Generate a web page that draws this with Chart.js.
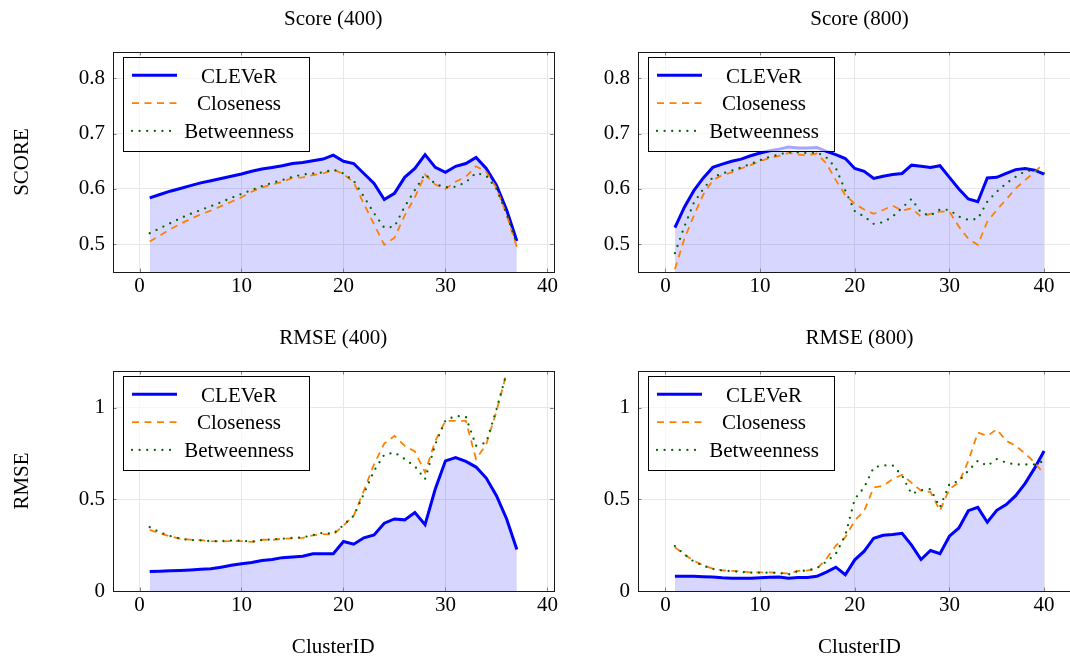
<!DOCTYPE html>
<html>
<head>
<meta charset="utf-8">
<script src="https://cdn.jsdelivr.net/npm/chart.js@4.4.0/dist/chart.umd.min.js"></script>
<style>
  html, body { margin:0; padding:0; background:#fff; overflow:hidden; width:1070px; height:659px; }
  canvas { position:absolute; }
</style>
</head>
<body>
<canvas id="c1" width="560" height="320" style="left:0;top:0"></canvas>
<canvas id="c2" width="530" height="320" style="left:560px;top:0"></canvas>
<canvas id="c3" width="560" height="339" style="left:0;top:320px"></canvas>
<canvas id="c4" width="530" height="339" style="left:560px;top:320px"></canvas>
<script>
// ---------------- data ----------------
const seriesNames = ['CLEVeR', 'Closeness', 'Betweenness'];

const clusters400 = [1,2,3,4,5,6,7,8,9,10,11,12,13,14,15,16,17,18,19,20,21,22,23,24,25,26,27,28,29,30,31,32,33,34,35,36,37];
const clusters800 = [1,2,3,4,5,6,7,8,9,10,11,12,13,14,15,16,17,18,19,20,21,22,23,24,25,26,27,28,29,30,31,32,33,34,35,36,37,38,39,40];

const score400Clever = [0.584,0.590,0.596,0.601,0.606,0.611,0.615,0.619,0.623,0.627,0.632,0.636,0.639,0.642,0.646,0.648,0.651,0.654,0.661,0.650,0.646,0.628,0.610,0.581,0.592,0.621,0.637,0.662,0.639,0.630,0.641,0.646,0.657,0.637,0.607,0.562,0.506];
const score400Close  = [0.505,0.516,0.527,0.537,0.546,0.554,0.561,0.569,0.577,0.585,0.595,0.603,0.608,0.613,0.620,0.621,0.625,0.628,0.635,0.627,0.612,0.573,0.536,0.499,0.512,0.552,0.585,0.626,0.608,0.600,0.613,0.622,0.641,0.631,0.602,0.553,0.495];
const score400Betw   = [0.520,0.529,0.538,0.547,0.555,0.562,0.569,0.576,0.584,0.591,0.598,0.605,0.611,0.616,0.622,0.626,0.628,0.630,0.635,0.628,0.615,0.586,0.556,0.530,0.532,0.568,0.598,0.627,0.609,0.603,0.604,0.612,0.629,0.624,0.600,0.555,0.500];

const score800Clever = [0.530,0.567,0.597,0.620,0.639,0.645,0.650,0.654,0.660,0.665,0.669,0.672,0.676,0.674,0.674,0.675,0.668,0.662,0.655,0.637,0.632,0.619,0.623,0.626,0.628,0.643,0.641,0.639,0.642,0.621,0.600,0.582,0.577,0.620,0.621,0.628,0.635,0.637,0.634,0.627];
const score800Close  = [0.455,0.510,0.552,0.590,0.616,0.625,0.630,0.637,0.643,0.650,0.656,0.660,0.665,0.662,0.661,0.664,0.646,0.616,0.589,0.573,0.563,0.555,0.562,0.570,0.561,0.565,0.550,0.555,0.559,0.559,0.532,0.510,0.499,0.541,0.562,0.581,0.601,0.616,0.631,0.646];
const score800Betw   = [0.484,0.532,0.575,0.600,0.621,0.628,0.633,0.639,0.645,0.652,0.658,0.662,0.667,0.666,0.665,0.666,0.657,0.638,0.597,0.560,0.550,0.537,0.540,0.550,0.566,0.582,0.557,0.552,0.563,0.562,0.550,0.544,0.546,0.577,0.595,0.610,0.622,0.632,0.634,0.628];

const rmse400Clever = [0.107,0.108,0.110,0.112,0.115,0.118,0.121,0.130,0.140,0.149,0.155,0.166,0.172,0.182,0.186,0.190,0.203,0.203,0.203,0.270,0.255,0.290,0.306,0.370,0.393,0.388,0.428,0.362,0.556,0.710,0.728,0.707,0.676,0.616,0.520,0.393,0.226];
const rmse400Close  = [0.333,0.315,0.298,0.285,0.280,0.277,0.272,0.270,0.272,0.272,0.268,0.280,0.279,0.285,0.287,0.290,0.304,0.310,0.308,0.357,0.411,0.547,0.692,0.804,0.846,0.792,0.761,0.647,0.819,0.928,0.928,0.928,0.719,0.800,0.980,1.190];
const rmse400Betw   = [0.348,0.320,0.300,0.285,0.278,0.276,0.272,0.272,0.275,0.275,0.268,0.278,0.282,0.285,0.290,0.292,0.305,0.318,0.312,0.360,0.410,0.530,0.656,0.743,0.755,0.720,0.680,0.610,0.800,0.930,0.955,0.950,0.792,0.810,0.990,1.190];

const rmse800Clever = [0.080,0.080,0.080,0.078,0.077,0.072,0.070,0.070,0.070,0.072,0.075,0.076,0.070,0.073,0.074,0.080,0.103,0.130,0.089,0.170,0.217,0.288,0.304,0.308,0.315,0.250,0.172,0.221,0.203,0.299,0.344,0.438,0.456,0.375,0.440,0.471,0.520,0.587,0.670,0.764];
const rmse800Close  = [0.239,0.199,0.165,0.140,0.122,0.113,0.110,0.107,0.102,0.102,0.102,0.100,0.095,0.110,0.112,0.121,0.176,0.248,0.293,0.384,0.438,0.565,0.574,0.610,0.634,0.590,0.547,0.540,0.438,0.556,0.592,0.710,0.864,0.846,0.882,0.819,0.792,0.750,0.701,0.638];
const rmse800Betw   = [0.245,0.200,0.160,0.138,0.120,0.112,0.108,0.104,0.100,0.100,0.100,0.098,0.090,0.108,0.112,0.125,0.160,0.203,0.303,0.502,0.565,0.674,0.685,0.685,0.629,0.529,0.550,0.556,0.456,0.583,0.600,0.656,0.710,0.683,0.719,0.700,0.690,0.690,0.690,0.710];

const xTickValues = [0, 10, 20, 30, 40];
const scoreTickValues = [0.5, 0.6, 0.7, 0.8];
const scoreTickLabels = ['0.5', '0.6', '0.7', '0.8'];
const rmseTickValues = [0, 0.5, 1];
const rmseTickLabels = ['0', '0.5', '1'];

// ---------------- drawing ----------------
const FONT = '"Liberation Serif", "Times New Roman", serif';
const FS = 21;

const styles = [
  { borderColor:'#0000ff', borderWidth:3, borderDash:[], fill:'start', backgroundColor:'rgba(0,0,255,0.16)', order:3, borderCapStyle:'butt' },
  { borderColor:'#ff8000', borderWidth:1.8, borderDash:[7,5.5], fill:false, order:2, borderCapStyle:'butt' },
  { borderColor:'#006400', borderWidth:2.3, borderDash:[0,7.6], fill:false, order:1, borderCapStyle:'round' }
];

const decoPlugin = {
  id: 'deco',
  afterDatasetsDraw(chart, args, o) {
    const { ctx, chartArea: a, scales } = chart;
    ctx.save();
    // inward tick marks
    ctx.strokeStyle = '#808080';
    ctx.lineWidth = 1;
    const tl = 3.5;
    ctx.beginPath();
    for (const t of scales.x.ticks) {
      const px = Math.round(scales.x.getPixelForValue(t.value)) + 0.5;
      ctx.moveTo(px, a.bottom); ctx.lineTo(px, a.bottom - tl);
      ctx.moveTo(px, a.top); ctx.lineTo(px, a.top + tl);
    }
    for (const t of scales.y.ticks) {
      const py = Math.round(scales.y.getPixelForValue(t.value)) + 0.5;
      ctx.moveTo(a.left, py); ctx.lineTo(a.left + tl, py);
      ctx.moveTo(a.right, py); ctx.lineTo(a.right - tl, py);
    }
    ctx.stroke();
    // frame
    ctx.strokeStyle = '#1a1a1a';
    ctx.lineWidth = 1;
    ctx.strokeRect(Math.round(a.left) + 0.5, Math.round(a.top) + 0.5, Math.round(a.right - a.left), Math.round(a.bottom - a.top));

    // legend
    const lx = a.left + 9.7, ly = a.top + 5, lw = 186.3, lh = 94;
    ctx.fillStyle = 'rgba(255,255,255,0.65)';
    ctx.fillRect(lx, ly, lw, lh);
    ctx.strokeStyle = '#000';
    ctx.lineWidth = 1;
    ctx.strokeRect(Math.round(lx) + 0.5, Math.round(ly) + 0.5, Math.round(lw), Math.round(lh));
    ctx.font = FS + 'px ' + FONT;
    ctx.textAlign = 'center';
    ctx.textBaseline = 'alphabetic';
    chart.data.datasets.forEach((ds, i) => {
      const yy = a.top + 23.3 + i * 27.8;
      ctx.save();
      ctx.strokeStyle = ds.borderColor;
      ctx.lineWidth = ds.borderWidth;
      ctx.setLineDash(ds.borderDash);
      ctx.lineCap = ds.borderCapStyle;
      ctx.beginPath();
      ctx.moveTo(a.left + 19, yy);
      ctx.lineTo(a.left + 64, yy);
      ctx.stroke();
      ctx.restore();
      ctx.fillStyle = '#000';
      ctx.fillText(ds.label, a.left + 126, a.top + 30.8 + i * 27.5);
    });

    // title
    ctx.fillStyle = '#000';
    ctx.textAlign = 'center';
    ctx.fillText(o.title, (a.left + a.right) / 2, a.top - 27.2);
    // x label
    if (o.xlabel) ctx.fillText(o.xlabel, (a.left + a.right) / 2, a.bottom + 62.3);
    // y label
    if (o.ylabel) {
      ctx.save();
      ctx.translate(o.ylabelX, (a.top + a.bottom) / 2);
      ctx.rotate(-Math.PI / 2);
      ctx.fillText(o.ylabel, 0, 0);
      ctx.restore();
    }
    ctx.restore();
  }
};

function makeChart(id, cfg) {
  const datasets = cfg.series.map((vals, i) => Object.assign({
    label: seriesNames[i],
    data: vals.map((v, k) => ({ x: cfg.xs[k], y: v })),
    pointRadius: 0,
    tension: 0
  }, styles[i]));
  return new Chart(document.getElementById(id), {
    type: 'line',
    data: { datasets },
    plugins: [decoPlugin],
    options: {
      responsive: false,
      animation: false,
      devicePixelRatio: 1,
      layout: { padding: { top: cfg.padTop, right: cfg.padRight, left: 0, bottom: 0 } },
      plugins: {
        legend: { display: false },
        tooltip: { enabled: false },
        title: { display: false },
        deco: { title: cfg.title, xlabel: cfg.xlabel, ylabel: cfg.ylabel, ylabelX: cfg.ylabelX }
      },
      scales: {
        x: {
          type: 'linear', min: cfg.xmin, max: cfg.xmax,
          afterBuildTicks: s => { s.ticks = xTickValues.map(v => ({ value: v })); },
          afterFit: s => { s.height = cfg.xAxisH; },
          grid: { color: '#e8e8e8', lineWidth: 1, drawTicks: false },
          border: { display: false },
          ticks: { font: { family: FONT, size: FS }, color: '#000', padding: 2, maxRotation: 0, autoSkip: false,
                   callback: v => String(v) }
        },
        y: {
          type: 'linear', min: cfg.ymin, max: cfg.ymax,
          afterBuildTicks: s => { s.ticks = cfg.yTicks.map(v => ({ value: v })); },
          afterFit: s => { s.width = cfg.yAxisW; },
          grid: { color: '#e8e8e8', lineWidth: 1, drawTicks: false },
          border: { display: false },
          ticks: { font: { family: FONT, size: FS }, color: '#000', padding: 8, autoSkip: false,
                   callback: v => cfg.yLabels[cfg.yTicks.indexOf(v)] }
        }
      }
    }
  });
}

makeChart('c1', { xs: clusters400, series: [score400Clever, score400Close, score400Betw],
  xmin: -2.6, xmax: 40.6, ymin: 0.45, ymax: 0.8475, yTicks: scoreTickValues, yLabels: scoreTickLabels,
  padTop: 52, padRight: 4, xAxisH: 48, yAxisW: 113, title: 'Score (400)', ylabel: 'SCORE', ylabelX: 28.3 });
makeChart('c2', { xs: clusters800, series: [score800Clever, score800Close, score800Betw],
  xmin: -2.9, xmax: 43.9, ymin: 0.45, ymax: 0.8475, yTicks: scoreTickValues, yLabels: scoreTickLabels,
  padTop: 52, padRight: 9, xAxisH: 48, yAxisW: 78, title: 'Score (800)' });
makeChart('c3', { xs: clusters400, series: [rmse400Clever, rmse400Close, rmse400Betw],
  xmin: -2.6, xmax: 40.6, ymin: 0, ymax: 1.2, yTicks: rmseTickValues, yLabels: rmseTickLabels,
  padTop: 51, padRight: 4, xAxisH: 68, yAxisW: 113, title: 'RMSE (400)', ylabel: 'RMSE', ylabelX: 28.3, xlabel: 'ClusterID' });
makeChart('c4', { xs: clusters800, series: [rmse800Clever, rmse800Close, rmse800Betw],
  xmin: -2.9, xmax: 43.9, ymin: 0, ymax: 1.2, yTicks: rmseTickValues, yLabels: rmseTickLabels,
  padTop: 51, padRight: 9, xAxisH: 68, yAxisW: 78, title: 'RMSE (800)', xlabel: 'ClusterID' });
</script>
</body>
</html>
